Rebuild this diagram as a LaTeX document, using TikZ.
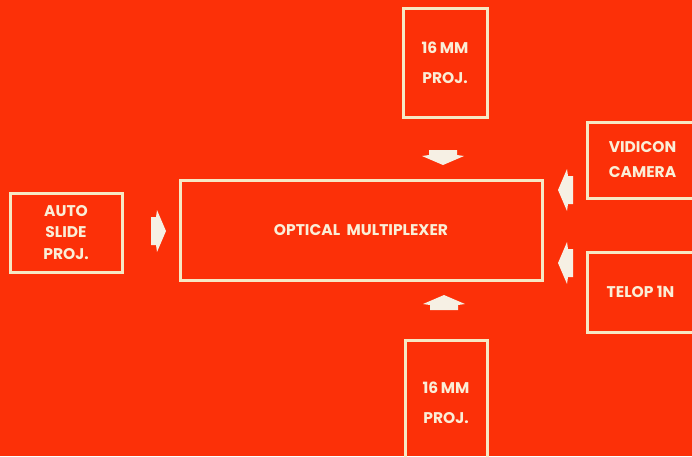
\documentclass[tikz,border=0pt]{standalone}
\usepackage{fontspec}
\setmainfont{Poppins}
\begin{document}
\begin{tikzpicture}[x=1pt,y=-1pt,
  box/.style={draw=linecol, line width=3pt, inner sep=0pt, align=center,
    font=\fontsize{15.5}{21.5}\selectfont\bfseries, text=textcol},
  flowarrow/.style={fill=arrowcol, draw=none}]
\definecolor{bgred}{RGB}{252,48,8}
\definecolor{linecol}{RGB}{246,232,196}
\definecolor{textcol}{RGB}{250,238,215}
\definecolor{arrowcol}{RGB}{246,240,228}
\fill[bgred] (0,0) rectangle (692,456);
\useasboundingbox (0,0) rectangle (692,456);
% boxes
\node[box, minimum width=112pt, minimum height=79pt] (auto) at (66,232.5) {AUTO\\SLIDE\\PROJ.};
\node[box, minimum width=84pt, minimum height=109pt, font=\fontsize{15.5}{30}\selectfont\bfseries] (top) at (445,62.5) {16\,MM\\PROJ.};
\node[box, minimum width=362pt, minimum height=100pt] (mux) at (361,230) {OPTICAL\ \ MULTIPLEXER};
\node[box, minimum width=111pt, minimum height=76pt, font=\fontsize{15.5}{25}\selectfont\bfseries] (vid) at (642.5,160) {VIDICON\\CAMERA};
\node[box, minimum width=107pt, minimum height=80pt] (telop) at (640.5,292) {TELOP 1N};
\node[box, minimum width=82pt, minimum height=125pt, font=\fontsize{15.5}{30}\selectfont\bfseries] (bot) at (446,402.5) {16\,MM\\PROJ.};
% flow arrows
\newcommand{\flowshape}{(0,-14)--(5,-14)--(6,-21)--(15,0)--(6,21)--(5,14)--(0,14)--cycle}
\fill[flowarrow, shift={(443,150)}, rotate=-90] \flowshape;
\fill[flowarrow, shift={(444,310)}, rotate=90] \flowshape;
\fill[flowarrow, shift={(151,231)}, rotate=0] \flowshape;
\fill[flowarrow, shift={(573,190)}, rotate=180] \flowshape;
\fill[flowarrow, shift={(573,263)}, rotate=180] \flowshape;
\end{tikzpicture}
\end{document}
